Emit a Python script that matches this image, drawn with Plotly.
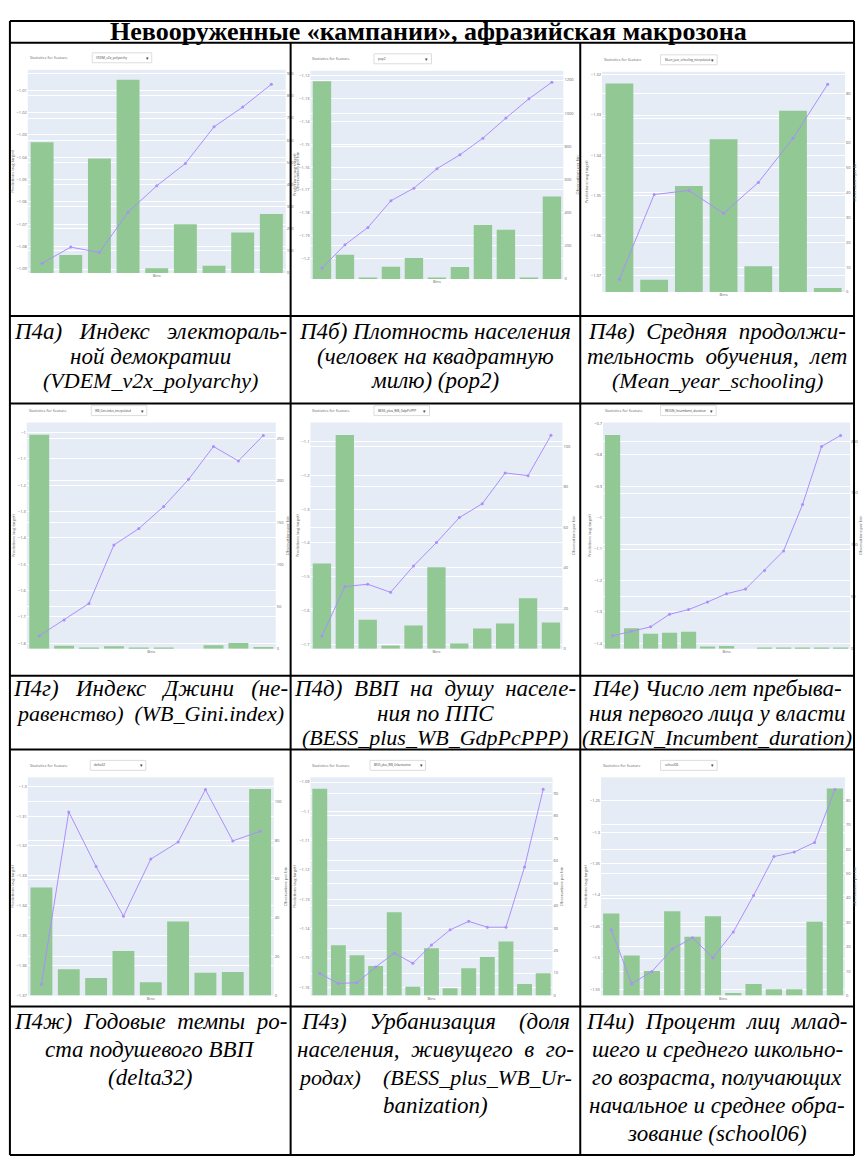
import plotly.graph_objects as go

W, H = 863, 1159

# ---------------- data ----------------
title_text = "Невооруженные «кампании», афразийская макрозона"

features = [
    "VDEM_v2x_polyarchy", "pop2", "Mean_year_schooling_interpolated",
    "WB_Gini.index_interpolated", "BESS_plus_WB_GdpPcPPP", "REIGN_Incumbent_duration",
    "delta32", "BESS_plus_WB_Urbanization", "school06",
]

counts_a = [591, 82, 517, 873, 22, 220, 33, 183, 267]
pred_a = [-1.0874, -1.0802, -1.0826, -1.0646, -1.0528, -1.0428, -1.0264, -1.0176, -1.0074]

counts_b = [1192, 147, 10, 74, 127, 10, 72, 326, 297, 10, 498]
pred_b = [-1.2042, -1.1940, -1.1864, -1.1747, -1.1692, -1.1607, -1.1546, -1.1473, -1.1385, -1.1301, -1.1228]

counts_c = [84, 4.9, 42.7, 61.5, 10.4, 73, 1.6]
pred_c = [-1.3709, -1.3498, -1.3488, -1.3545, -1.3468, -1.3358, -1.3223]

counts_d = [254, 3.5, 1.2, 3.1, 1.6, 0.8, 0, 4.3, 6.7, 2.0]
pred_d = [-1.772, -1.712, -1.649, -1.427, -1.365, -1.281, -1.178, -1.053, -1.108, -1.011]

counts_e = [42.1, 105.7, 14.3, 1.6, 11.5, 40.3, 2.6, 10.0, 12.5, 24.9, 13.0]
pred_e = [-1.675, -1.529, -1.522, -1.546, -1.468, -1.399, -1.325, -1.284, -1.193, -1.201, -1.082]

counts_f = [206, 19.8, 14.4, 15.3, 16.3, 2.2, 2.6, 0, 0.6, 0.3, 0.3, 0.3, 0.3]
pred_f = [-1.3765, -1.3617, -1.348, -1.3078, -1.293, -1.2687, -1.2423, -1.2275,
          -1.1683, -1.1059, -0.958, -0.773, -0.738]

counts_g = [55.7, 13.6, 9.1, 23.0, 6.9, 38.2, 11.7, 12.1, 106.4]
pred_g = [-1.3663, -1.3086, -1.3269, -1.3435, -1.3244, -1.3187, -1.3011, -1.3183, -1.3151]

counts_h = [92, 22.4, 17.9, 13.1, 37.1, 3.9, 21.1, 3.3, 12.1, 17.1, 24.0, 5.1, 9.9]
pred_h = [-1.1553, -1.1587, -1.1584, -1.1531, -1.1483, -1.1518, -1.1456, -1.1404,
          -1.1375, -1.1395, -1.1395, -1.1190, -1.0925]

counts_i = [33.6, 16.4, 10.1, 34.6, 24.1, 32.5, 1.0, 4.7, 2.6, 2.6, 30.3, 84.9]
pred_i = [-1.4551, -1.5408, -1.5214, -1.4857, -1.4679, -1.4995, -1.4587, -1.4005,
          -1.3388, -1.3316, -1.3163, -1.2321]

# caption lines: (text, justified?)
captions = [
    [("П4а) Индекс электораль-", True), ("ной демократии", False), ("(VDEM_v2x_polyarchy)", False)],
    [("П4б) Плотность населения", True), ("(человек на квадратную", False), ("милю) (pop2)", False)],
    [("П4в) Средняя продолжи-", True), ("тельность обучения, лет", True), ("(Mean_year_schooling)", False)],
    [("П4г) Индекс Джини (не-", True), ("равенство) (WB_Gini.index)", True)],
    [("П4д) ВВП на душу населе-", True), ("ния по ППС", False), ("(BESS_plus_WB_GdpPcPPP)", False)],
    [("П4е) Число лет пребыва-", True), ("ния первого лица у власти", True), ("(REIGN_Incumbent_duration)", False)],
    [("П4ж) Годовые темпы ро-", True), ("ста подушевого ВВП", False), ("(delta32)", False)],
    [("П4з) Урбанизация (доля", True), ("населения, живущего в го-", True),
     ("родах) (BESS_plus_WB_Ur-", True), ("banization)", False)],
    [("П4и) Процент лиц млад-", True), ("шего и среднего школьно-", True), ("го возраста, получающих", True),
     ("начальное и среднее обра-", True), ("зование (school06)", False)],
]

series = [
    (counts_a, pred_a), (counts_b, pred_b), (counts_c, pred_c),
    (counts_d, pred_d), (counts_e, pred_e), (counts_f, pred_f),
    (counts_g, pred_g), (counts_h, pred_h), (counts_i, pred_i),
]

# axis settings per panel: (count range top, count dtick, pred range, pred dtick)
axis_cfg = [
    (918, 100, (-1.0918, -1.0009), 0.01),
    (1256, 200, (-1.209, -1.1178), 0.01),
    (88.7, 10, (-1.3741, -1.3192), 0.01),
    (268.5, 50, (-1.8212, -0.9622), 0.1),
    (111.8, 20, (-1.7127, -1.0441), 0.1),
    (217.9, 50, (-1.4178, -0.6968), 0.1),
    (112.4, 20, (-1.3701, -1.2970), 0.01),
    (97.1, 10, (-1.1628, -1.0884), 0.01),
    (89.5, 10, (-1.5597, -1.2128), 0.05),
]

# ---------------- layout geometry (pixels) ----------------
# plot area: x0, x1, y0(top), y1(bottom); dropdown x0, x1
panel_geom = [
    (28, 288, 68, 272, 93, 153),
    (313, 568, 69, 278, 377, 435),
    (607, 852, 70, 291, 666, 723),
    (27, 278, 422, 649, 92, 148),
    (313, 567, 422, 649, 377, 433),
    (608, 857, 422, 649, 666, 722),
    (28, 276, 778, 997, 91, 147),
    (313, 557, 778, 997, 373, 429),
    (606, 852, 778, 997, 666, 723),
]

col_bounds = [(10, 293), (293, 585), (585, 861)]
caption_rows = [(331, 24.5), (689, 24.5), (1023, 28.0)]
h_lines = [19, 41, 315, 403, 676, 750, 1008, 1157]

BAR_COLOR = "rgb(145,200,148)"
LINE_COLOR = "rgb(172,142,252)"
TICK_FONT = dict(family="Open Sans", size=4, color="#666")

# approximate advance widths (em) of the italic serif face
_EM = {}
for chars, w in [
    (" ,", 0.25), ("()-.", 0.33), ("_0123456789", 0.5),
    ("тшщжюЖШЩЮmw", 0.72), ("мы", 0.64), ("гзсеукхьcesrz", 0.42),
    ("iltfj", 0.28), ("IJ", 0.36),
    ("ПИНДЦЧВСОРЕКMNDGHOQUWBCARSEVZPKXY", 0.66), ("ГЛУТТFLT", 0.58),
]:
    for c in chars:
        _EM[c] = w


def text_width(s, size):
    return sum(_EM.get(ch, 0.5) for ch in s) * size


def caption_size(line):
    # lines carrying long latin identifiers are set a touch smaller
    return 22 if "_" in line else 23


def px(x):
    return x / W


def py(y):
    return 1 - y / H


fig = go.Figure()
layout = dict(
    width=W, height=H, margin=dict(l=0, r=0, t=0, b=0),
    paper_bgcolor="white", plot_bgcolor="#E5ECF6",
    showlegend=False, shapes=[], annotations=[],
)

for k, ((counts, preds), cfg, geom, feat) in enumerate(zip(series, axis_cfg, panel_geom, features)):
    cnt_top, cnt_dt, pred_rng, pred_dt = cfg
    x0, x1, y0, y1, d0, d1 = geom
    n = len(counts)
    xs = list(range(n))
    xa = f"x{k + 1}"
    yb = f"y{2 * k + 1}"
    yl = f"y{2 * k + 2}"
    fig.add_trace(go.Bar(x=xs, y=counts, xaxis=xa, yaxis=yb,
                         marker=dict(color=BAR_COLOR, line=dict(width=0))))
    fig.add_trace(go.Scatter(x=xs, y=preds, xaxis=xa, yaxis=yl, mode="lines+markers",
                             line=dict(color=LINE_COLOR, width=1),
                             marker=dict(color=LINE_COLOR, size=3)))
    layout[f"xaxis{k + 1}"] = dict(
        domain=[px(x0), px(x1)], anchor=yb, range=[-0.5, n - 0.5],
        showticklabels=False, showgrid=False, zeroline=False, ticks="",
        title=dict(text="Bins", font=TICK_FONT, standoff=1),
    )
    layout[f"yaxis{2 * k + 1}"] = dict(
        domain=[py(y1), py(y0)], anchor=xa, side="right", range=[0, cnt_top],
        dtick=cnt_dt, tickfont=TICK_FONT, gridcolor="white", gridwidth=1,
        zeroline=False, ticks="",
        title=dict(text="Observations per bin", font=TICK_FONT, standoff=2),
    )
    layout[f"yaxis{2 * k + 2}"] = dict(
        overlaying=yb, anchor=xa, side="left", range=list(pred_rng),
        dtick=pred_dt, tickfont=TICK_FONT, gridcolor="white", gridwidth=1,
        zeroline=False, ticks="",
        title=dict(text="Predictions (avg target)", font=TICK_FONT, standoff=2),
    )
    # feature selector above each chart
    hy = y0 - 12
    layout["annotations"].append(dict(
        x=px(x0), y=py(hy), xref="paper", yref="paper", xanchor="left", yanchor="middle",
        text="Statistics for feature", showarrow=False, font=TICK_FONT))
    layout["shapes"].append(dict(
        type="rect", xref="paper", yref="paper", x0=px(d0), x1=px(d1),
        y0=py(hy + 5), y1=py(hy - 5), line=dict(color="#ddd", width=1), fillcolor="white"))
    layout["annotations"].append(dict(
        x=px(d0 + 2), y=py(hy), xref="paper", yref="paper", xanchor="left", yanchor="middle",
        text=feat, showarrow=False,
        font=dict(family="Open Sans", size=2.8 if len(feat) > 24 else 3.2, color="#444")))
    layout["annotations"].append(dict(
        x=px(d1 - 1), y=py(hy), xref="paper", yref="paper", xanchor="right", yanchor="middle",
        text="▾", showarrow=False, font=dict(family="Open Sans", size=5, color="#444")))

# captions (justified lines get evenly widened word gaps)
NBSP = "\u00a0"
for k, lines in enumerate(captions):
    row, col = divmod(k, 3)
    cx0, cx1 = col_bounds[col]
    avail = (cx1 - cx0) - 12
    ytop, step = caption_rows[row]
    for j, (line, justified) in enumerate(lines):
        size = caption_size(line)
        text = line
        words = line.split(" ")
        if justified and len(words) > 1:
            extra = avail - text_width(line, size)
            per_gap = extra / (len(words) - 1)
            n_sp = max(0, int(per_gap / (0.25 * size)))
            text = (" " + NBSP * n_sp).join(words)
        layout["annotations"].append(dict(
            x=px((cx0 + cx1) / 2), y=py(ytop + j * step), xref="paper", yref="paper",
            xanchor="center", yanchor="middle", showarrow=False,
            text=f"<i>{text}</i>",
            font=dict(family="Liberation Serif", size=size, color="black")))

# title
layout["annotations"].append(dict(
    x=px(432), y=py(30), xref="paper", yref="paper", xanchor="center", yanchor="middle",
    showarrow=False, text=f"<b>{title_text}</b>",
    font=dict(family="Liberation Serif", size=26, color="black")))

# table rules
for yv in h_lines:
    layout["shapes"].append(dict(type="line", xref="paper", yref="paper",
                                 x0=px(10), x1=px(861), y0=py(yv), y1=py(yv),
                                 line=dict(color="black", width=2)))
for xv in (10, 861):
    layout["shapes"].append(dict(type="line", xref="paper", yref="paper",
                                 x0=px(xv), x1=px(xv), y0=py(19), y1=py(1157),
                                 line=dict(color="black", width=2)))
for xv in (293, 585):
    layout["shapes"].append(dict(type="line", xref="paper", yref="paper",
                                 x0=px(xv), x1=px(xv), y0=py(41), y1=py(1157),
                                 line=dict(color="black", width=2)))

fig.update_layout(**layout)
fig.write_html("out.html")
